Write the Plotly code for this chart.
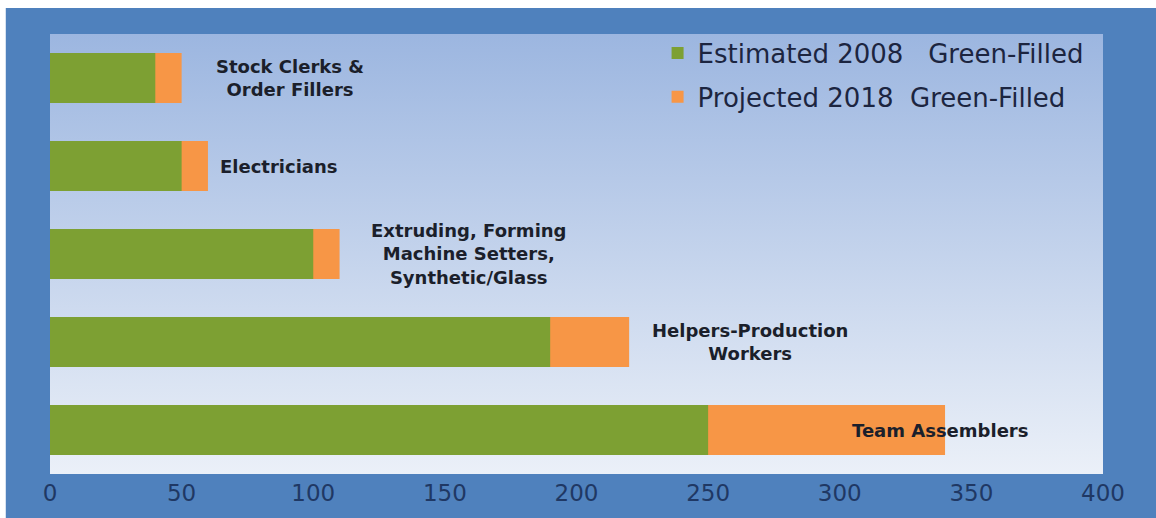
import base64
import plotly.graph_objects as go

# Data (top to bottom)
occupations = ["Stock Clerks & Order Fillers", "Electricians",
               "Extruding, Forming Machine Setters, Synthetic/Glass",
               "Helpers-Production Workers", "Team Assemblers"]
label_text = ["Stock Clerks &<br>Order Fillers", "Electricians",
              "Extruding, Forming<br>Machine Setters,<br>Synthetic/Glass",
              "Helpers-Production<br>Workers", "Team Assemblers"]
estimated_2008 = [40, 50, 100, 190, 250]
projected_2018 = [50, 60, 110, 220, 340]
tick_vals = [0, 50, 100, 150, 200, 250, 300, 350, 400]

# where the labels sit along the x axis
label_x = [91, 87, 159, 266, 338]

sp = "\u00a0"
name_est = "Estimated 2008" + sp * 3 + "Green-Filled"
name_proj = "Projected 2018" + sp * 2 + "Green-Filled"

# gradient background for the plot area
svg = ('<svg xmlns="http://www.w3.org/2000/svg" width="10" height="100" preserveAspectRatio="none">'
       '<defs><linearGradient id="g" x1="0" y1="0" x2="0" y2="1">'
       '<stop offset="0" stop-color="#9CB6E0"/><stop offset="1" stop-color="#EBF0F8"/>'
       '</linearGradient></defs><rect width="10" height="100" fill="url(#g)"/></svg>')
bg_src = "data:image/svg+xml;base64," + base64.b64encode(svg.encode()).decode()

fig = go.Figure()

# projected drawn first so the estimated bar overlays it
fig.add_trace(go.Bar(
    y = occupations,
    x = projected_2018,
    orientation = "h",
    name = name_proj,
    legendgroup = "p",
    legendrank = 2,
    marker_color = "#F79646",
    marker_line_width = 0,
))

fig.add_trace(go.Bar(
    y = occupations,
    x = estimated_2008,
    orientation = "h",
    name = name_est,
    legendgroup = "e",
    legendrank = 1,
    marker_color = "#7DA033",
    marker_line_width = 0,
))

for occ, txt, lx in zip(occupations, label_text, label_x):
    fig.add_annotation(
        x = lx, y = occ, text = "<b>" + txt + "</b>",
        showarrow = False, align = "center",
        font = dict(family = "DejaVu Sans", size = 18, color = "#1B1F2B"),
    )

fig.update_layout(
    width = 1156,
    height = 518,
    margin = dict(l = 50, r = 53, t = 34, b = 44),
    paper_bgcolor = "#4F81BD",
    plot_bgcolor = "#C8D6EE",
    barmode = "overlay",
    bargap = 0.43,
    showlegend = True,
    legend = dict(
        x = 0.577, y = 1.01, xanchor = "left", yanchor = "top",
        traceorder = "grouped",
        tracegroupgap = 7,
        bgcolor = "rgba(0,0,0,0)",
        font = dict(family = "DejaVu Sans", size = 26, color = "#1C2540"),
    ),
    xaxis = dict(
        range = [0, 400],
        tickvals = tick_vals,
        showgrid = False,
        zeroline = False,
        showline = False,
        ticks = "",
        ticklabelstandoff = 3,
        tickfont = dict(family = "DejaVu Sans", size = 23, color = "#1F3864"),
        fixedrange = True,
    ),
    yaxis = dict(
        autorange = "reversed",
        showticklabels = False,
        showgrid = False,
        zeroline = False,
        showline = False,
        ticks = "",
    ),
    images = [dict(
        source = bg_src, xref = "paper", yref = "paper",
        x = 0, y = 1, sizex = 1, sizey = 1,
        xanchor = "left", yanchor = "top",
        sizing = "stretch", layer = "below",
    )],
    # thin white border on the top and left of the picture
    shapes = [
        dict(type = "rect", xref = "paper", yref = "paper",
             x0 = -0.2, x1 = 1.2, y0 = 1.059, y1 = 1.3,
             fillcolor = "white", line_width = 0, layer = "above"),
        dict(type = "rect", xref = "paper", yref = "paper",
             x0 = -0.2, x1 = -0.042, y0 = -0.3, y1 = 1.3,
             fillcolor = "white", line_width = 0, layer = "above"),
    ],
)

fig.write_html(
    "out.html",
    config = {"displayModeBar": False},
    post_script = "document.body.style.margin = '0'; document.body.style.overflow = 'hidden';",
)
